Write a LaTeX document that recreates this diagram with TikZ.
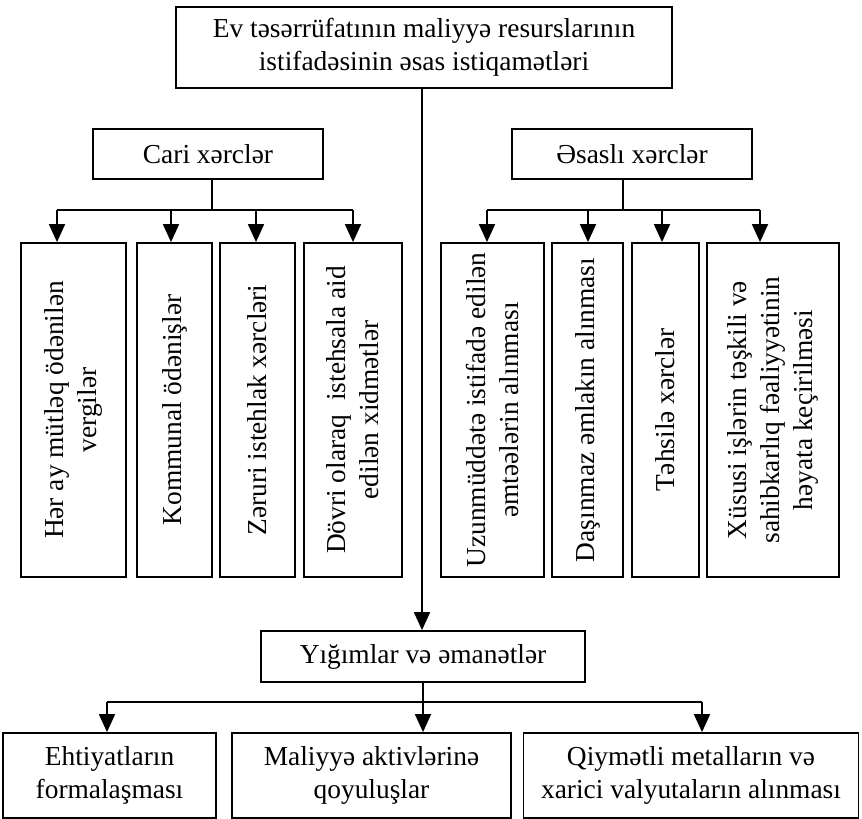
\documentclass[tikz,border=0pt]{standalone}
\usepackage{fontspec}
\setmainfont{Liberation Serif}
\usetikzlibrary{arrows.meta}
\begin{document}
\begin{tikzpicture}[x=1pt,y=-1pt,
  every node/.style={font=\fontsize{27.4}{33}\selectfont},
  box/.style={draw, line width=1.8pt, inner sep=0pt, align=center},
  vtext/.style={rotate=90, align=center, inner sep=0pt},
  link/.style={line width=1.8pt},
  arr/.style={line width=1.8pt, -{Triangle[width=16pt,length=18pt]}}]
\useasboundingbox (0,0) rectangle (862,819);

% top level
\node[box, minimum width=496pt, minimum height=81pt] (top) at (424,47.5)
  {Ev təsərrüfatının maliyyə resurslarının\\istifadəsinin əsas istiqamətləri};

% two expense groups
\node[box, minimum width=230pt, minimum height=50pt] (cari) at (208,154) {Cari xərclər};
\node[box, minimum width=240pt, minimum height=50pt] (esasli) at (632,154) {Əsaslı xərclər};

% current expenses
\node[box, minimum width=105pt, minimum height=334pt] (L1) at (73.5,410) {};
\node[box, minimum width=75pt, minimum height=334pt] (L2) at (174.5,410) {};
\node[box, minimum width=75pt, minimum height=334pt] (L3) at (257.5,410) {};
\node[box, minimum width=98pt, minimum height=334pt] (L4) at (353,410) {};
\node[vtext] (L1t) at (L1) {Hər ay mütləq ödənilən\\vergilər};
\node[vtext] (L2t) at (L2) {Kommunal ödənişlər};
\node[vtext] (L3t) at (L3) {Zəruri istehlak xərcləri};
\node[vtext] (L4t) at (L4) {Dövri olaraq\ \ istehsala aid\\edilən xidmətlər};

% capital expenses
\node[box, minimum width=103pt, minimum height=334pt] (R1) at (492.5,410) {};
\node[box, minimum width=71pt, minimum height=334pt] (R2) at (587.5,410) {};
\node[box, minimum width=67pt, minimum height=334pt] (R3) at (665.5,410) {};
\node[box, minimum width=132pt, minimum height=334pt] (R4) at (773,410) {};
\node[vtext] (R1t) at (R1) {Uzunmüddətə istifadə edilən\\əmtəələrin alınması};
\node[vtext] (R2t) at (R2) {Daşınmaz əmlakın alınması};
\node[vtext] (R3t) at (R3) {Təhsilə xərclər};
\node[vtext] (R4t) at (R4) {Xüsusi işlərin təşkili və\\sahibkarlıq fəaliyyətinin\\həyata keçirilməsi};

% savings
\node[box, minimum width=324pt, minimum height=51pt] (yig) at (423,656.5) {Yığımlar və əmanətlər};
\node[box, minimum width=213pt, minimum height=85pt] (B1) at (109.5,775.5) {Ehtiyatların\\formalaşması};
\node[box, minimum width=279pt, minimum height=85pt] (B2) at (371.5,775.5) {Maliyyə aktivlərinə\\qoyuluşlar};
\node[box, minimum width=335pt, minimum height=85pt] (B3) at (691,775.5) {Qiymətli metalların və\\xarici valyutaların alınması};

% junction points on the distribution bars
\coordinate (cj) at (212,210);
\coordinate (c1) at (57,210);
\coordinate (c2) at (171,210);
\coordinate (c3) at (256,210);
\coordinate (c4) at (353,210);
\coordinate (ej) at (623,210);
\coordinate (e1) at (487,210);
\coordinate (e2) at (588,210);
\coordinate (e3) at (662,210);
\coordinate (e4) at (760,210);
\coordinate (tj) at (422,88);
\coordinate (yj) at (423,702);
\coordinate (y1) at (107,702);
\coordinate (y3) at (702,702);

% main trunk
\draw[arr] (top.south -| tj) -- (yig.north -| tj);

% current expenses branch
\draw[link] (cari.south -| cj) -- (cj);
\draw[link] (c1) -- (c4);
\draw[arr] (c1) -- (c1 |- L1.north);
\draw[arr] (c2) -- (c2 |- L2.north);
\draw[arr] (c3) -- (c3 |- L3.north);
\draw[arr] (c4) -- (c4 |- L4.north);

% capital expenses branch
\draw[link] (esasli.south -| ej) -- (ej);
\draw[link] (e1) -- (e4);
\draw[arr] (e1) -- (e1 |- R1.north);
\draw[arr] (e2) -- (e2 |- R2.north);
\draw[arr] (e3) -- (e3 |- R3.north);
\draw[arr] (e4) -- (e4 |- R4.north);

% savings branch
\draw[link] (y1) -- (y3);
\draw[arr] (yig.south -| yj) -- (yj |- B2.north);
\draw[arr] (y1) -- (y1 |- B1.north);
\draw[arr] (y3) -- (y3 |- B3.north);
\end{tikzpicture}
\end{document}
